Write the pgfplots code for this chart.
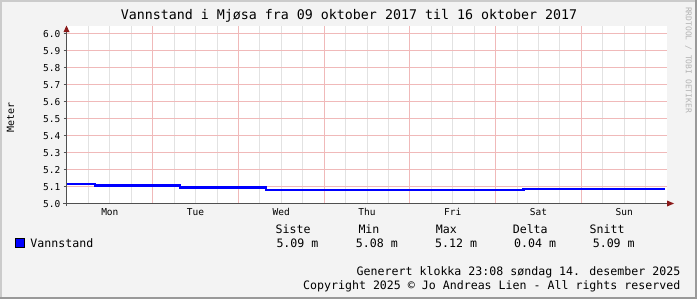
\documentclass[border=0pt]{standalone}
\usepackage{fontspec}
\setmainfont{DejaVu Sans Mono}
\usepackage{pgfplots}
\pgfplotsset{compat=1.18}
\definecolor{bgc}{HTML}{F3F3F3}
\definecolor{shadea}{HTML}{CBCBCB}
\definecolor{shadeb}{HTML}{999999}
\definecolor{mgridc}{RGB}{240,185,185}
\definecolor{gridc}{RGB}{226,226,226}
\definecolor{axisc}{HTML}{505050}
\definecolor{arrowc}{HTML}{8B1A1A}
\definecolor{wmc}{HTML}{B4B4B4}
\definecolor{linec}{HTML}{0000FF}
\newcommand\fs[1]{\fontsize{#1bp}{#1bp}\selectfont}

\begin{document}
\begin{tikzpicture}
\begin{scope}[x=1bp,y=-1bp]
\fill[bgc] (0,0) rectangle (697,299);
\fill[shadea] (0,0) rectangle (697,2);
\fill[shadea] (0,0) rectangle (2,299);
\fill[shadeb] (695,0) rectangle (697,299);
\fill[shadeb] (0,297) rectangle (697,299);
\fill[white] (67,26) rectangle (667,204);
\end{scope}

\begin{axis}[
  at={(67bp,-203.5bp)}, anchor=south west,
  scale only axis, width=600bp, height=177.5bp,
  xmin=0, xmax=7, ymin=5, ymax=6.04412,
  axis line style={draw=none},
  /pgf/number format/assume math mode=true,
  ticklabel style={font=\fs{9.5}},
  major tick length=0pt,
  xtick={0.5,1.5,2.5,3.5,4.5,5.5,6.5},
  xticklabels={Mon,Tue,Wed,Thu,Fri,Sat,Sun},
  xticklabel style={anchor=base, inner sep=0pt, yshift=-12.2bp},
  ytick={5.0,5.1,5.2,5.3,5.4,5.5,5.6,5.7,5.8,5.9,6.0},
  yticklabel style={/pgf/number format/fixed, /pgf/number format/fixed zerofill, /pgf/number format/precision=1},
  yticklabel style={anchor=base east, inner sep=0pt, xshift=-6.5bp, yshift=-3.8bp},
]
\pgfplotsinvokeforeach{0.25,0.5,0.75,1.25,1.5,1.75,2.25,2.5,2.75,3.25,3.5,3.75,4.25,4.5,4.75,5.25,5.5,5.75,6.25,6.5,6.75}{
  \draw[gridc, line width=1bp] (axis cs:#1,5) -- (axis cs:#1,6.04412);
}
\pgfplotsinvokeforeach{1,2,3,4,5,6}{
  \draw[mgridc, line width=1bp] (axis cs:#1,5) -- (axis cs:#1,6.04412);
}
\pgfplotsinvokeforeach{5.1,5.2,5.3,5.4,5.5,5.6,5.7,5.8,5.9,6.0}{
  \draw[mgridc, line width=1bp] (axis cs:0,#1) -- (axis cs:7,#1);
}
\addplot[const plot, linec, line width=2.5bp] coordinates {
  (0,5.116) (0.3267,5.106) (1.318,5.095) (2.322,5.078) (5.324,5.086) (6.977,5.086)
};
\end{axis}

\begin{scope}[x=1bp,y=-1bp]
\foreach \k in {0,...,10}{
  \draw[axisc, line width=1bp] (63.5,{203.5-17*\k}) -- (67,{203.5-17*\k});
}
\draw[axisc, line width=1bp] (63,203.5) -- (668,203.5);
\fill[arrowc] (674,203.5) -- (667,200.5) -- (667,206.5) -- cycle;
\draw[axisc, line width=1bp] (66.5,206) -- (66.5,32);
\fill[arrowc] (66.5,25.5) -- (63.5,32) -- (69.5,32) -- cycle;

\node[anchor=base, inner sep=0pt, font=\fs{13.3}] at (349,19) {Vannstand i Mjøsa fra 09 oktober 2017 til 16 oktober 2017};
\node[rotate=90, inner sep=0pt, font=\fs{10}] at (10.5,117.5) {Meter};
\node[rotate=-90, inner sep=0pt, font=\fs{8}, text=wmc] at (688.5,60) {RRDTOOL / TOBI OETIKER};

\filldraw[fill=linec, draw=black, line width=1bp] (15.5,238.5) rectangle (24.5,247.5);
\node[anchor=base west, inner sep=0pt, font=\fs{11.6}] at (30.3,247) {Vannstand};

\begin{scope}[every node/.style={anchor=base west, inner sep=0pt, font=\fs{11.6}}]
\node at (275.4,233.5) {Siste};
\node at (358.3,233.5) {Min};
\node at (435.7,233.5) {Max};
\node at (512.6,233.5) {Delta};
\node at (589.5,233.5) {Snitt};
\node at (276.3,247.3) {5.09 m};
\node at (355.7,247.3) {5.08 m};
\node at (434.9,247.3) {5.12 m};
\node at (514.0,247.3) {0.04 m};
\node at (592.6,247.3) {5.09 m};
\end{scope}

\node[anchor=base east, inner sep=0pt, font=\fs{11.6}] at (680.5,275) {Generert klokka 23:08 søndag 14. desember 2025};
\node[anchor=base east, inner sep=0pt, font=\fs{11.6}] at (680.5,289.3) {Copyright 2025 © Jo Andreas Lien - All rights reserved};
\end{scope}

\pgfresetboundingbox
\path[use as bounding box] (0,0) rectangle (697bp,-299bp);
\end{tikzpicture}
\end{document}
